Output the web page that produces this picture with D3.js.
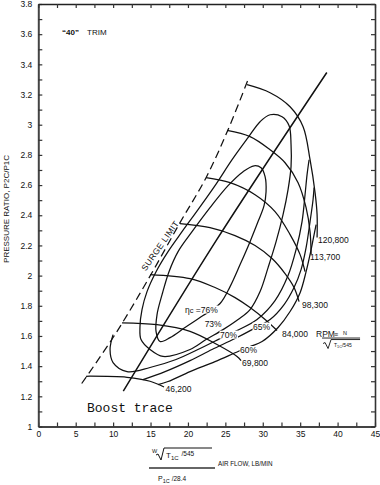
<!DOCTYPE html>
<html><head><meta charset="utf-8">
<script src="https://cdn.jsdelivr.net/npm/d3@7"></script>
<style>body{margin:0;background:#fff}text{font-family:"Liberation Sans",Arial,sans-serif;fill:#111}</style>
</head><body>
<svg id="c" width="380" height="485"></svg>
<script>
// ---------- data ----------
const xTickValues = [0,5,10,15,20,25,30,35,40,45];
const xTickLabels = ["0","5","10","15","20","25","30","35","40","45"];
const yTickValues = [1,1.2,1.4,1.6,1.8,2,2.2,2.4,2.6,2.8,3,3.2,3.4,3.6,3.8];
const yTickLabels = ["1","1.2","1.4","1.6","1.8","2","2.2","2.4","2.6","2.8","3","3.2","3.4","3.6","3.8"];

const surgeLine = [[5.80,1.285],[10.25,1.609],[14.67,1.974],[18.94,2.351],[22.42,2.649],[25.36,2.967],[27.97,3.291]];

const speed46200  = [[6.38,1.333],[11.86,1.326],[14.93,1.300],[16.80,1.262]];
const speed69800  = [[11.19,1.687],[15.87,1.675],[20.28,1.631],[23.89,1.543],[26.56,1.464],[27.10,1.437]];
const speed84000  = [[14.93,2.007],[20.28,1.980],[23.62,1.921],[26.30,1.854],[28.30,1.788],[30.31,1.709],[31.91,1.636]];
const speed98300  = [[18.94,2.344],[22.95,2.318],[26.29,2.265],[28.97,2.199],[31.24,2.113],[32.98,2.013],[34.18,1.921],[34.85,1.828]];
const speedUnlab  = [[22.42,2.649],[25.63,2.616],[28.97,2.536],[31.64,2.424],[33.65,2.272],[34.99,2.139],[35.65,2.026]];
const speed113700 = [[25.23,2.962],[28.30,2.921],[30.98,2.834],[32.98,2.748],[34.72,2.616],[35.79,2.450],[36.32,2.291],[36.46,2.139]];
const speed120800 = [[27.90,3.265],[30.98,3.212],[33.65,3.119],[35.39,2.987],[36.32,2.768],[36.99,2.550],[37.26,2.404],[37.26,2.252]];

const speedLabels = ["46,200","69,800","84,000","98,300","","113,700","120,800"];

const eff76 = [[16.27,1.563],[15.74,1.629],[15.87,1.742],[16.54,1.874],[17.47,2.026],[18.68,2.159],[20.55,2.291],[22.95,2.450],[25.36,2.596],[27.37,2.689],[28.84,2.728],[29.77,2.715],[30.31,2.656],[30.44,2.556],[30.17,2.464],[29.37,2.358],[28.30,2.225],[26.97,2.073],[25.63,1.927],[24.29,1.815],[22.02,1.735],[19.61,1.656],[17.61,1.589]];
const eff73 = [[13.73,1.576],[13.59,1.662],[13.86,1.775],[14.53,1.894],[15.74,2.026],[17.34,2.159],[19.21,2.291],[21.35,2.437],[23.62,2.596],[25.90,2.768],[28.03,2.914],[29.64,3.020],[30.98,3.066],[32.58,3.053],[33.52,2.993],[33.78,2.868],[33.78,2.722],[33.38,2.570],[32.71,2.404],[31.78,2.225],[30.71,2.053],[29.64,1.894],[28.30,1.775],[26.70,1.709],[24.69,1.642],[22.42,1.576],[20.28,1.510],[16.67,1.464],[14.93,1.510]];
const eff70 = [[9.99,1.609],[9.59,1.510],[9.99,1.424],[11.86,1.364],[14.93,1.391],[18.41,1.444],[21.62,1.517],[24.02,1.576],[26.56,1.636],[29.24,1.709],[31.64,1.834],[33.38,2.000],[34.45,2.172],[35.25,2.358],[35.65,2.536],[35.92,2.669],[36.19,2.768]];
const eff65 = [[14.00,1.311],[16.94,1.364],[20.28,1.437],[23.22,1.510],[26.30,1.583],[28.57,1.642],[30.98,1.709],[32.85,1.808],[34.18,1.921],[35.12,2.040],[35.79,2.185],[36.32,2.358],[36.72,2.503],[36.86,2.583]];
const eff60 = [[16.00,1.278],[17.34,1.298],[20.28,1.364],[23.62,1.430],[26.70,1.497],[28.30,1.530],[29.91,1.563],[32.05,1.656],[33.65,1.762],[34.99,1.887],[35.79,2.026],[36.46,2.172],[36.86,2.272],[37.13,2.338]];

const effNames = ["76%","73%","70%","65%","60%"];
const effLabelAt = [[19.61,1.755],[22.23,1.662],[24.29,1.589],[28.70,1.642],[26.97,1.487]];

const boostTrace = [[11.36,1.234],[23.85,2.238],[38.56,3.346]];

// ---------- drawing ----------
const svg = d3.select("#c");
const x = d3.scaleLinear([0,45],[38.3,375]);
const y = d3.scaleLinear([1,3.8],[426.5,4]);

const minorX = d3.range(0,45.01,2.5);
const minorY = d3.range(0,28.01,1).map(i=>+(1+i*0.1).toFixed(2));

function fmtX(v){const i=xTickValues.indexOf(v);return i>=0?xTickLabels[i]:"";}
function fmtY(v){const i=yTickValues.findIndex(t=>Math.abs(t-v)<1e-6);return i>=0?yTickLabels[i]:"";}

const gB = svg.append("g").attr("transform",`translate(0,${y(1)})`)
  .call(d3.axisBottom(x).tickValues(minorX).tickSizeInner(-4).tickSizeOuter(0).tickPadding(4.5).tickFormat(fmtX));
const gL = svg.append("g").attr("transform",`translate(${x(0)},0)`)
  .call(d3.axisLeft(y).tickValues(minorY).tickSizeInner(-4).tickSizeOuter(0).tickPadding(6).tickFormat(fmtY));
const gT = svg.append("g").attr("transform",`translate(0,${y(3.8)})`)
  .call(d3.axisTop(x).tickValues(minorX).tickSizeInner(-4).tickSizeOuter(0).tickFormat(""));
const gR = svg.append("g").attr("transform",`translate(${x(45)},0)`)
  .call(d3.axisRight(y).tickValues(minorY).tickSizeInner(-4).tickSizeOuter(0).tickFormat(""));
[gB,gL,gT,gR].forEach(g=>{
  g.selectAll("text").style("font-size","8.5px").style("font-family","Liberation Sans, Arial, sans-serif").attr("fill","#111");
  g.selectAll("line").attr("stroke","#333").attr("stroke-width",1.2);
});
gB.select(".domain").attr("stroke","#444").attr("stroke-width",2);
gL.select(".domain").attr("stroke","#444").attr("stroke-width",2);
gT.select(".domain").attr("stroke","#222").attr("stroke-width",1.4);
gR.select(".domain").attr("stroke","#333").attr("stroke-width",1.6);

const lineOpen = d3.line().x(d=>x(d[0])).y(d=>y(d[1])).curve(d3.curveCatmullRom.alpha(0.5));
const lineClosed = d3.line().x(d=>x(d[0])).y(d=>y(d[1])).curve(d3.curveCatmullRomClosed.alpha(0.5));

const plot = svg.append("g").attr("fill","none").attr("stroke","#111").attr("stroke-width",1.25);

// surge
plot.append("path").attr("d",lineOpen(surgeLine)).attr("stroke-dasharray","8,4.5");

// speed lines
const speeds = [speed46200,speed69800,speed84000,speed98300,speedUnlab,speed113700,speed120800];
speeds.forEach(s=>plot.append("path").attr("d",lineOpen(s)));

// efficiency
plot.append("path").attr("d",lineClosed(eff76));
plot.append("path").attr("d",lineClosed(eff73));
[eff70,eff65,eff60].forEach(e=>plot.append("path").attr("d",lineOpen(e)));

// boost trace
plot.append("path").attr("d",lineOpen(boostTrace)).attr("stroke-width",1.5);

// speed labels at line ends
const spdOff = [[1.5,5],[1,5],[5,6],[3,6],[0,0],[-1,5],[1,5]];
speeds.forEach((s,i)=>{
  if(!speedLabels[i]) return;
  const p = s[s.length-1];
  svg.append("text").attr("x",x(p[0])+spdOff[i][0]).attr("y",y(p[1])+spdOff[i][1])
    .style("font-size","8.5px").text(speedLabels[i]);
});

// efficiency labels with gaps
effNames.forEach((n,i)=>{
  const p = effLabelAt[i];
  const g = svg.append("g");
  const t = g.append("text").attr("x",x(p[0])).attr("y",y(p[1])).style("font-size","8.5px");
  if(i===0){
    t.append("tspan").text("η");
    t.append("tspan").style("font-size","7.5px").text("c");
    t.append("tspan").text(" =" + n);
  } else t.text(n);
  const b = t.node().getBBox();
  g.insert("rect","text").attr("x",b.x-0.5).attr("y",b.y+1).attr("width",b.width+1).attr("height",b.height-2).attr("fill","#fff");
});

// RPM definition
const r0 = speed84000[speed84000.length-1];
const rx = x(r0[0]), ry = y(r0[1]);
svg.append("text").attr("x",rx+39).attr("y",ry+6).style("font-size","8.5px").text("RPM");
svg.append("text").attr("x",rx+57).attr("y",ry+6).style("font-size","7px").text("≡");
svg.append("text").attr("x",rx+66).attr("y",ry+4).style("font-size","5.5px").text("N");
svg.append("line").attr("x1",rx+45).attr("x2",rx+83).attr("y1",ry+7.5).attr("y2",ry+7.5).attr("stroke","#111").attr("stroke-width",0.9);
svg.append("path").attr("d",`M${rx+46},${ry+13} l2,-1 l3,6 l3,-9 h29`).attr("fill","none").attr("stroke","#111").attr("stroke-width",0.9);
const tt = svg.append("text").attr("x",rx+57).attr("y",ry+16).style("font-size","5px");
tt.append("tspan").text("T");
tt.append("tspan").attr("dy",1).style("font-size","3.8px").text("1C");
tt.append("tspan").attr("dy",-1).text("/545");

// titles
svg.append("text").attr("transform",`translate(9,209) rotate(-90)`).attr("text-anchor","middle")
  .style("font-size","8px").text("PRESSURE RATIO, P2C/P1C");
svg.append("text").attr("x",62).attr("y",35).style("font-size","8px").style("font-weight","bold").text("\u201C40\u201D");
svg.append("text").attr("x",87).attr("y",35).style("font-size","8px").text("TRIM");

// surge label along line
const sl = [16.6,2.187];
svg.append("text").attr("transform",`translate(${x(sl[0])},${y(sl[1])}) rotate(-55)`).attr("text-anchor","middle")
  .style("font-size","8.5px").style("letter-spacing","0.4px").text("SURGE LIMIT");

// boost trace label
svg.append("text").attr("x",87).attr("y",412).style("font-family","Liberation Mono, Courier New, monospace")
  .style("font-size","13px").text("Boost trace");

// x-axis title (corrected flow fraction)
const ax = svg.append("g");
ax.append("text").attr("x",152).attr("y",453).style("font-size","5.5px").text("W");
ax.append("path").attr("d","M156,455 l2,-1 l3,6 l3,-12 h48").attr("fill","none").attr("stroke","#111").attr("stroke-width",1);
const nt = ax.append("text").attr("x",166).attr("y",458).style("font-size","8px");
nt.append("tspan").text("T");
nt.append("tspan").attr("dy",2).style("font-size","6px").text("1C");
nt.append("tspan").attr("dy",-4).attr("dx",3).style("font-size","6.5px").text("/545");
ax.append("line").attr("x1",149).attr("x2",215).attr("y1",468).attr("y2",468).attr("stroke","#666").attr("stroke-width",2);
const dt = ax.append("text").attr("x",158).attr("y",481).style("font-size","7px");
dt.append("tspan").text("P");
dt.append("tspan").attr("dy",1.5).style("font-size","5.5px").text("1C");
dt.append("tspan").attr("dy",-2).attr("dx",2).style("font-size","6.5px").text("/28.4");
ax.append("text").attr("x",218).attr("y",465.5).style("font-size","6.3px").text("AIR FLOW, LB/MIN");
</script>
</body></html>
